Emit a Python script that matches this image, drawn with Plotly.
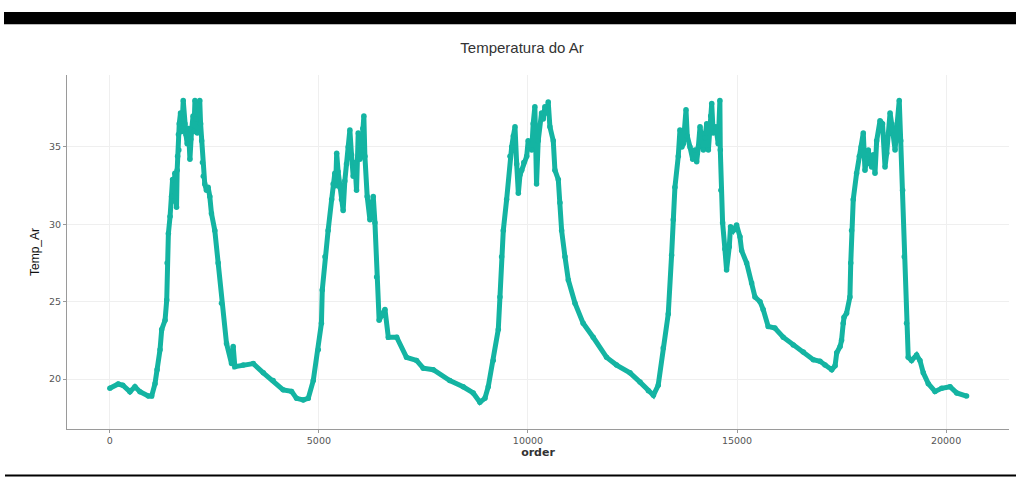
import plotly.graph_objects as go

order = [0,200,310,480,600,720,920,1000,1080,1130,1200,1240,1320,1360,1370,1400,1440,1475,1500,1520,1555,1575,1595,1610,1620,1640,1650,1660,1690,1720,1755,1775,1795,1820,1850,1880,1915,1935,1955,1990,2010,2035,2060,2090,2120,2150,2170,2195,2215,2235,2270,2310,2350,2390,2430,2510,2590,2670,2790,2910,2950,2990,3190,3430,3670,3905,4145,4345,4465,4625,4745,4865,4985,5060,5080,5145,5220,5305,5340,5380,5400,5425,5460,5500,5540,5580,5620,5660,5700,5740,5780,5820,5860,5900,5940,5980,6020,6050,6075,6100,6155,6220,6260,6300,6340,6380,6440,6580,6660,6860,7095,7335,7495,7735,8130,8450,8690,8850,8970,9050,9170,9290,9330,9370,9410,9490,9570,9610,9650,9690,9730,9770,9810,9850,9900,9970,10005,10090,10125,10165,10205,10245,10325,10365,10405,10445,10485,10525,10605,10645,10725,10765,10805,10885,10965,11125,11320,11560,11880,12120,12440,12680,12880,13000,13115,13235,13355,13435,13475,13515,13595,13635,13680,13715,13780,13810,13875,13940,13995,14035,14075,14115,14195,14235,14275,14315,14370,14395,14430,14495,14550,14590,14600,14615,14655,14710,14750,14815,14845,14910,14990,15070,15110,15230,15350,15430,15550,15625,15745,15905,16105,16345,16585,16825,16985,17105,17265,17345,17385,17465,17500,17540,17560,17620,17700,17720,17740,17780,17860,17925,17970,18020,18060,18100,18140,18180,18220,18260,18300,18340,18420,18480,18540,18580,18620,18660,18720,18780,18830,18880,18915,18960,19000,19055,19095,19175,19295,19375,19455,19575,19735,19895,20095,20255,20490]

temp_ar = [19.4,19.68,19.6,19.18,19.5,19.18,18.9,18.9,19.7,20.6,21.9,23.2,23.8,25.1,27.5,29.4,30.5,31.8,32.9,31.5,33.3,32.0,31.1,33.5,34.4,35.8,34.8,36.5,37.2,36.0,38.0,36.8,36.5,35.8,35.2,36.2,34.2,35.5,36.1,37.0,36.0,38.0,36.8,35.9,37.4,38.0,36.5,35.4,34.0,33.1,32.6,32.2,32.4,31.8,30.7,29.6,27.5,24.9,22.3,21.0,22.1,20.8,20.9,21.0,20.4,19.9,19.3,19.2,18.75,18.65,18.75,19.9,21.9,23.6,25.75,27.9,29.6,31.6,32.6,33.3,32.5,34.6,33.4,32.4,31.6,30.9,32.8,33.9,35.0,36.1,34.5,33.1,34.0,32.2,35.9,34.2,34.8,36.2,37.0,34.4,31.8,30.3,31.4,31.8,30.1,26.6,23.8,24.5,22.7,22.7,21.4,21.2,20.7,20.6,19.9,19.5,19.1,18.5,18.75,19.5,21.2,23.2,25.3,27.9,29.6,31.6,34.4,35.0,35.7,36.3,33.9,32.0,33.2,33.5,34.0,34.4,35.4,34.8,36.5,37.6,32.6,35.4,37.2,36.8,37.6,37.2,37.9,36.3,35.4,33.5,32.9,31.4,29.6,27.9,26.4,24.9,23.6,22.7,21.4,20.9,20.4,19.8,19.25,18.95,19.6,22.0,24.2,28.0,30.3,32.4,34.4,36.1,35.0,35.2,37.4,35.7,35.0,34.2,34.8,34.05,35.0,36.3,34.8,35.6,36.5,34.8,37.0,37.8,35.9,36.3,35.2,38.0,34.8,32.2,30.1,28.4,27.05,28.55,29.85,29.6,29.95,29.2,28.3,27.5,26.2,25.3,25.0,24.5,23.4,23.3,22.7,22.2,21.75,21.25,21.15,20.9,20.6,20.85,21.7,22.1,22.5,23.6,24.0,24.25,25.3,27.5,29.6,31.6,33.3,34.4,35.0,35.9,33.5,34.2,34.8,34.0,33.7,34.5,33.3,35.4,36.7,36.5,33.7,34.6,35.9,37.2,36.1,34.8,36.5,38.0,35.4,32.2,27.9,23.6,21.4,21.2,21.55,21.2,20.4,19.7,19.2,19.4,19.5,19.1,18.9]

x_ticks = [0, 5000, 10000, 15000, 20000]
x_tick_text = ["0", "5000", "10000", "15000", "20000"]
y_ticks = [20, 25, 30, 35]

teal = "#14b4a2"

fig = go.Figure()
fig.add_trace(go.Scatter(
    x=order, y=temp_ar, mode="lines+markers",
    line=dict(color=teal, width=5),
    marker=dict(color=teal, size=5.5),
    showlegend=False,
))

axis_common = dict(
    showgrid=True, gridcolor="#efefef", gridwidth=1,
    showline=True, linecolor="#9a9a9a", linewidth=1,
    ticks="outside", ticklen=3, tickcolor="#9a9a9a",
    tickfont=dict(family="DejaVu Sans", size=9.5, color="#555555"),
    zeroline=False, automargin=False,
)

fig.update_layout(
    width=1016, height=477,
    paper_bgcolor="white", plot_bgcolor="white",
    margin=dict(l=67, r=7, t=75, b=48, autoexpand=False),
    title=dict(text="Temperatura do Ar", x=522/1016, xref="container", xanchor="center",
               y=1 - 48/477, yref="container", yanchor="middle", automargin=False,
               font=dict(family="Liberation Sans", size=15, color="#333333")),
    xaxis=dict(range=[-1025, 21505], tickvals=x_ticks, ticktext=x_tick_text,
               title=dict(text="<b>order</b>", standoff=2,
                          font=dict(family="DejaVu Sans", size=11, color="#333333")),
               **axis_common),
    yaxis=dict(range=[16.77, 39.65], tickvals=y_ticks,
               title=dict(text="Temp_Ar", standoff=6,
                          font=dict(family="Liberation Sans", size=12, color="#111111")),
               **axis_common),
    shapes=[
        dict(type="rect", xref="paper", yref="paper",
             x0=(4-67)/942, x1=(1016-67)/942, y0=(429-24)/354, y1=(429-12)/354,
             fillcolor="black", line=dict(width=0)),
        dict(type="line", xref="paper", yref="paper",
             x0=(4-67)/942, x1=(1016-67)/942, y0=(429-24.5)/354, y1=(429-24.5)/354,
             line=dict(color="#bbbbbb", width=1)),
        dict(type="rect", xref="paper", yref="paper",
             x0=(5-67)/942, x1=(1016-67)/942, y0=(429-476.5)/354, y1=(429-474.5)/354,
             fillcolor="black", line=dict(width=0)),
    ],
)

fig.write_html("out.html", config={"displayModeBar": False},
               post_script="document.body.style.margin='0';document.body.style.overflow='hidden';")
